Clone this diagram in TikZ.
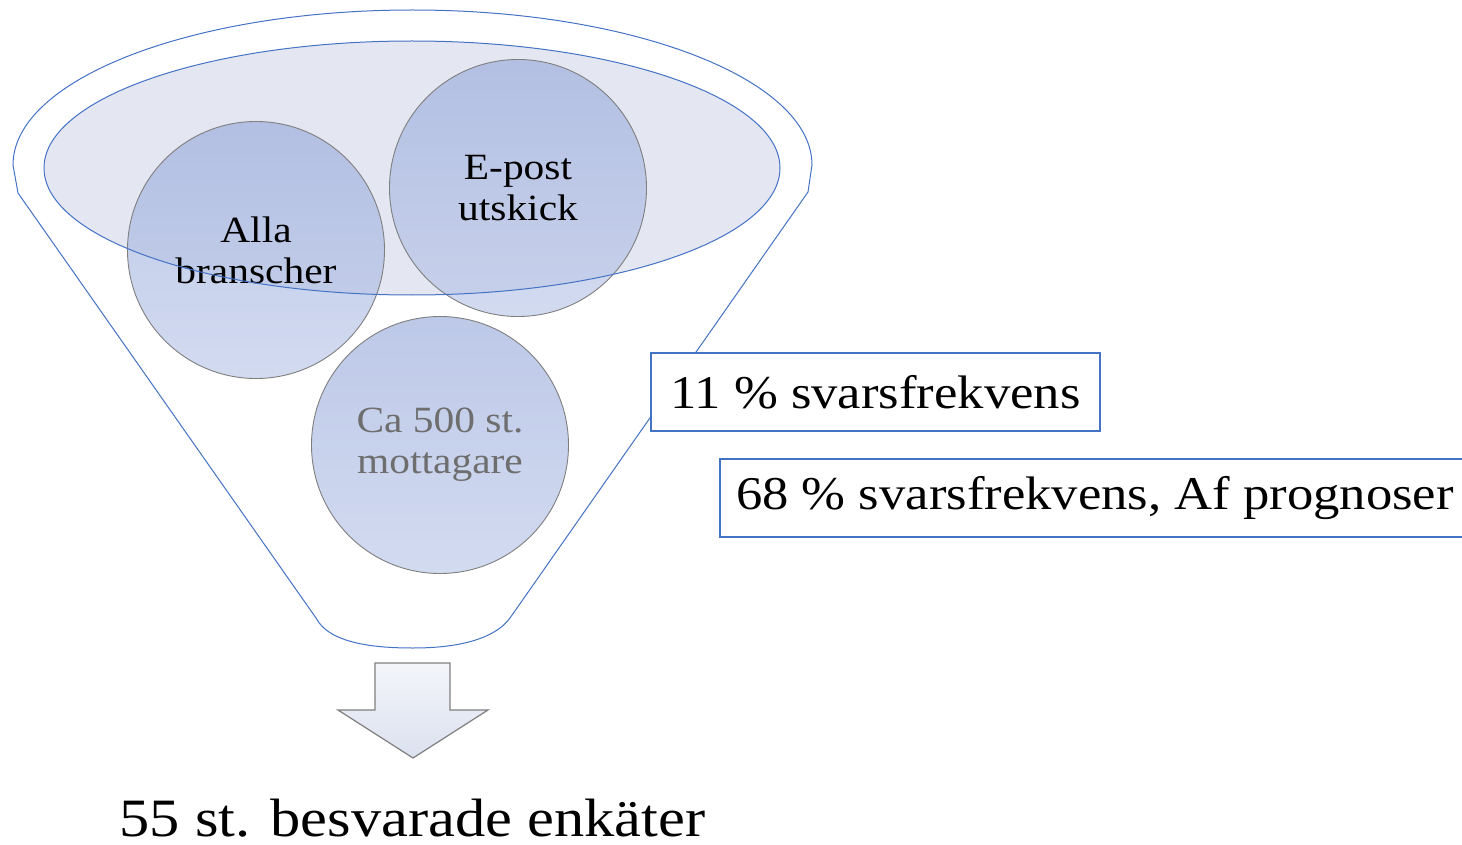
\documentclass[tikz,border=0pt]{standalone}
\usepackage{fontspec}
\setmainfont[FakeStretch=1.12]{Liberation Serif}
\definecolor{funnelblue}{HTML}{4472C4}
\definecolor{ellfill}{HTML}{E4E7F2}
\definecolor{circtop}{HTML}{98AADB}
\definecolor{circbot}{HTML}{B9C6E8}
\definecolor{circline}{HTML}{7F7F7F}
\definecolor{graytext}{HTML}{6E6E6E}
\definecolor{arrtop}{HTML}{F3F5FA}
\definecolor{arrbot}{HTML}{DCE1F0}
\tikzset{
  funnelline/.style={draw=funnelblue, line width=1pt},
  ball/.style={circle, minimum size=257pt, inner sep=0pt, align=center,
    draw=circline, line width=0.9pt, top color=circtop, bottom color=circbot,
    fill opacity=0.64, text opacity=1, font=\fontsize{37}{41}\selectfont},
  ratebox/.style={rectangle, draw=funnelblue, line width=1.6pt, fill=white,
    minimum height=78pt, inner sep=0pt, font=\fontsize{47}{52}\selectfont},
}
\begin{document}
\begin{tikzpicture}[x=1pt,y=-1pt]
\useasboundingbox (0,0) rectangle (1462,845);
\clip (0,0) rectangle (1462,845);
% outer funnel
\draw[funnelline] (18,193) -- (13,165) arc[start angle=180, end angle=360, x radius=399.5, y radius=155]
  -- (808,192) -- (510,618) .. controls (490,645) and (440,648) .. (413,648)
  .. controls (380,648) and (330,645) .. (316,618) -- cycle;
% inner ellipse fill
\fill[ellfill] (412,168) ellipse[x radius=368, y radius=127];
% circles
\node[ball] (alla) at (256,250) {Alla\\branscher};
\node[ball] (epost) at (518,188) {E-post\\utskick};
\node[ball, text=graytext] (ca) at (440,445) {Ca 500 st.\\mottagare};
% inner ellipse border on top
\draw[funnelline] (412,168) ellipse[x radius=368, y radius=127];
% arrow
\shade[top color=arrtop, bottom color=arrbot, draw=circline, line width=1.2pt]
  (375,663) -- (450,663) -- (450,710) -- (488,710) -- (413,758) -- (338,710) -- (375,710) -- cycle;
\coordinate (arrowtip) at (413,758);
% boxes
\node[ratebox, minimum width=449pt] (r1) at (875.5,392) {11 \% svarsfrekvens};
\node[ratebox, minimum width=750pt] (r2) at (1095,498) {68 \% svarsfrekvens, Af prognoser};
% bottom text
\node[font=\fontsize{54}{58}\selectfont, anchor=base, inner sep=0pt] (res) at (412.5,836) {55 st. besvarade enkäter};
\end{tikzpicture}
\end{document}
